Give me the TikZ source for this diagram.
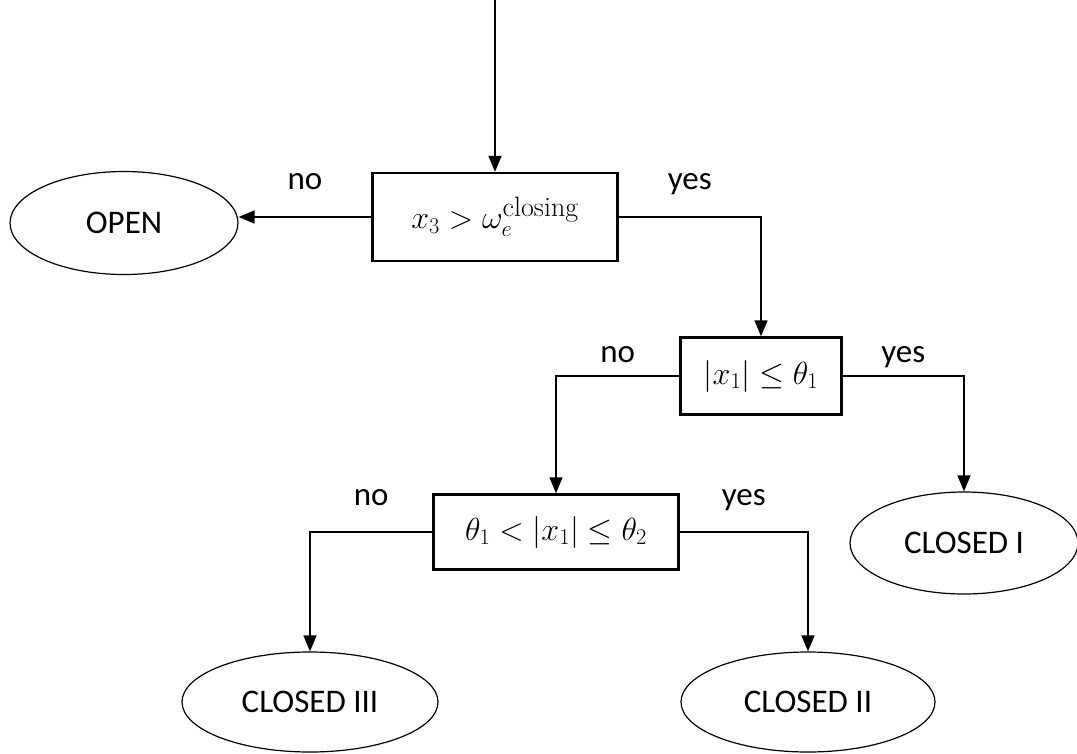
\RequirePackage{fix-cm}
\documentclass[tikz,border=0pt]{standalone}
\usepackage{amsmath}
\usepackage{fontspec}
\newfontfamily\calib{Carlito}
\usetikzlibrary{arrows.meta,shapes.geometric}

\begin{document}
\begin{tikzpicture}[x=1pt,y=-1pt,
  test/.style={draw,line width=2.4pt,inner sep=0pt,font=\fontsize{32}{38}\selectfont},
  state/.style={draw,ellipse,line width=1.2pt,inner sep=0pt,font=\calib\fontsize{33}{40}\selectfont},
  lbl/.style={inner sep=0pt,text height=15pt,text depth=0pt,font=\calib\fontsize{33}{40}\selectfont},
  arr/.style={-{Triangle[length=16pt,width=13pt]},line width=1.6pt}]
\useasboundingbox (0,0) rectangle (1077,753);
\coordinate (in) at (495,0);
\node[test,minimum width=245pt,minimum height=88pt] (c1) at (495,217)
  {$x_3>\omega_e^{\mbox{\fontsize{28}{28}\selectfont closing}}$};
\node[test,minimum width=161pt,minimum height=77pt] (c2) at (761,376) {$\left|x_1\right|\le\theta_1$};
\node[test,minimum width=245pt,minimum height=75pt] (c3) at (556,532) {$\theta_1<\left|x_1\right|\le\theta_2$};
\node[state,minimum width=228pt,minimum height=103pt] (open) at (124,223) {OPEN};
\node[state,minimum width=228pt,minimum height=102pt] (closed1) at (964,543) {CLOSED I};
\node[state,minimum width=254pt,minimum height=100pt] (closed2) at (808,702) {CLOSED II};
\node[state,minimum width=256pt,minimum height=100pt] (closed3) at (310,702) {CLOSED III};
\draw[arr] (in) -- (c1.north);
\draw[arr] (c1.west) -- node[lbl,above=27pt]{no} (c1.west-|open.east);
\draw[arr] (c1.east) -| node[lbl,above=27pt,pos=0.25]{yes} (c2.north);
\draw[arr] (c2.west) -| node[lbl,above=13pt,pos=0.25]{no} (c3.north);
\draw[arr] (c2.east) -| node[lbl,above=13pt,pos=0.25]{yes} (closed1.north);
\draw[arr] (c3.west) -| node[lbl,above=26pt,pos=0.25]{no} (closed3.north);
\draw[arr] (c3.east) -| node[lbl,above=26pt,pos=0.25]{yes} (closed2.north);
\end{tikzpicture}
\end{document}
